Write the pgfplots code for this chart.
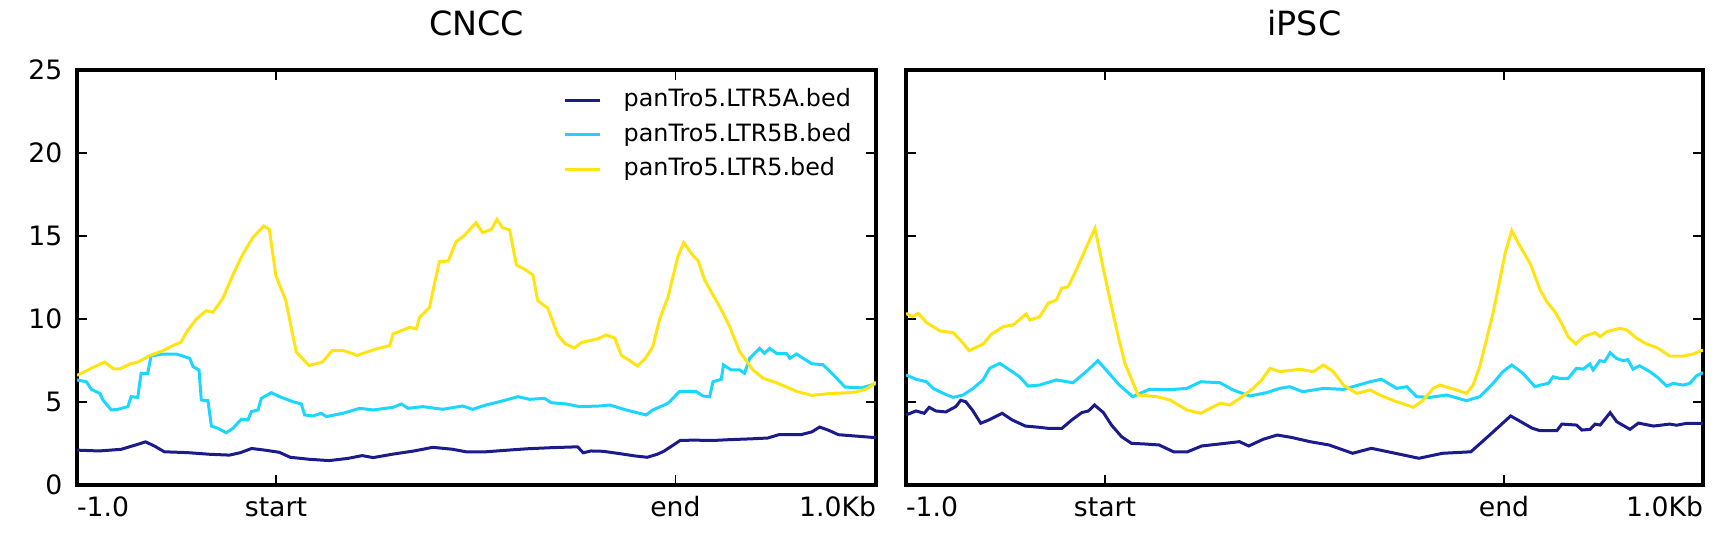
\documentclass[border=0pt]{standalone}
\usepackage{fontspec}
\setmainfont{DejaVu Sans}
\usepackage{pgfplots}
\pgfplotsset{compat=1.18}
\definecolor{cA}{RGB}{27,27,140}
\definecolor{cB}{RGB}{28,214,255}
\definecolor{cC}{RGB}{255,228,18}
\pgfplotsset{
  prof/.style={
    scale only axis,
    height=124.5pt,
    ymin=0, ymax=25,
    ytick={0,5,10,15,20,25},
    tick align=inside,
    xtick pos=both, ytick pos=both,
    major tick length=3pt,
    every tick/.style={black, line width=0.5pt},
    axis line style={line width=1pt},
    /pgf/number format/assume math mode=true,
    tick label style={font=\fontsize{8}{9}\selectfont, inner sep=0pt},
    yticklabel style={anchor=east},
    yticklabel shift=4.2pt,
    xticklabel style={anchor=base},
    xticklabel shift=9.4pt,
    title style={at={(0.5,1)}, anchor=base, yshift=4.5pt, font=\fontsize{10}{12}\selectfont},
    every axis plot/.append style={line width=0.9pt, mark=none},
  }
}
\begin{document}
\begin{tikzpicture}
\path[use as bounding box] (0,0) rectangle (519.6pt,165.3pt);
% ---------------- CNCC ----------------
\begin{axis}[prof,
  at={(23.1pt,19.8pt)}, anchor=south west, width=239.7pt,
  xmin=70, xmax=793,
  xtick={70,250,611.5,793},
  xticklabels={\makebox[0pt][l]{-1.0},start,end,\makebox[0pt][r]{1.0Kb}},
  title={CNCC},
  legend cell align=left,
  legend image code/.code={\draw[#1, line width=0.9pt] (0pt,0pt) -- (10.5pt,0pt);},
  legend style={at={(0.97,0.957)}, anchor=north east, draw=none, fill=none,
    inner sep=0pt, row sep=3.35pt, column sep=6.6pt,
    font=\fontsize{7.15}{8}\selectfont,
    nodes={inner sep=0pt, text height=5.5pt, text depth=1.5pt}},
]
\addplot[cA] coordinates {
(70,2.1) (90,2.05) (110,2.15) (125,2.45) (132,2.6) (140,2.35) (149,2.0) (170,1.95)
(190,1.85) (208,1.8) (218,1.95) (228,2.2) (240,2.1) (253,1.97) (263,1.67) (280,1.55)
(298,1.47) (315,1.6) (328,1.77) (338,1.65) (355,1.85) (375,2.05) (392,2.27) (410,2.15)
(422,2.0) (440,2.0) (460,2.1) (477,2.18) (500,2.25) (523,2.3) (528,1.94) (535,2.05)
(546,2.03) (560,1.9) (575,1.75) (586,1.67) (595,1.85) (601,2.03) (616,2.69) (630,2.7)
(645,2.68) (660,2.73) (680,2.78) (695,2.83) (705,3.03) (725,3.03) (735,3.2) (742,3.49)
(750,3.3) (759,3.03) (778,2.93) (793,2.85)
};
\addlegendentry{panTro5.LTR5A.bed}
\addplot[cB] coordinates {
(70,6.33) (78.5,6.22) (83,5.76) (90.5,5.52) (93.5,5.12) (101,4.52) (107,4.56) (116,4.72)
(119,5.32) (125,5.28) (128,6.73) (134,6.73) (137,7.77) (147.8,7.89) (160,7.89) (167.4,7.73)
(172,7.63) (175,7.13) (180.4,6.93) (182.5,5.12) (188.5,5.08) (191.6,3.55) (197.6,3.41)
(205,3.15) (211,3.41) (218.7,3.96) (224.7,3.92) (227.8,4.42) (233.8,4.52) (236.8,5.22)
(245.9,5.56) (253.4,5.32) (265.4,5.02) (273,4.88) (276,4.22) (283.5,4.16) (291,4.32)
(295.6,4.12) (310.7,4.32) (325.8,4.62) (337.8,4.52) (356,4.68) (363.5,4.88) (369.5,4.62)
(383,4.72) (401,4.56) (419,4.76) (428,4.56) (440,4.82) (452.5,5.02) (469,5.32) (479.6,5.16)
(493,5.22) (499,4.96) (512.8,4.88) (525,4.72) (543,4.76) (552,4.82) (567,4.52) (585,4.22)
(591,4.52) (604.8,4.92) (615,5.62) (630.5,5.62) (636.5,5.36) (642.5,5.32) (645.5,6.22)
(653,6.37) (655,7.23) (662,6.93) (669.7,6.93) (674,6.73) (678.7,7.63) (687.8,8.23)
(692,7.93) (696.8,8.23) (703,7.93) (712,7.93) (715,7.63) (721,7.89) (735,7.3) (745,7.25)
(755,6.6) (765,5.9) (780,5.85) (793,6.1)
};
\addlegendentry{panTro5.LTR5B.bed}
\addplot[cC] coordinates {
(70,6.6) (85,7.1) (95,7.4) (103,7.0) (109,7.0) (118,7.3) (125,7.4) (136,7.8) (148,8.1)
(157,8.4) (164,8.6) (170,9.3) (178,10.0) (187,10.5) (193,10.4) (202,11.25) (211,12.65)
(220,13.9) (229,14.9) (239,15.6) (244,15.4) (250,12.6) (259,11.1) (265,9.1) (268.5,8.0)
(280,7.2) (292,7.4) (301,8.1) (311,8.1) (320,7.9) (323,7.8) (341,8.2) (353,8.4) (356,9.1)
(371,9.5) (377,9.4) (380,10.1) (389,10.7) (394,12.3) (398,13.45) (406,13.5) (413,14.66)
(420,15.0) (431,15.8) (437,15.2) (445,15.4) (450,16.0) (455,15.5) (461.5,15.36)
(467.6,13.25) (475,13.0) (482.5,12.65) (487,11.1) (496,10.66) (505,9.04) (512,8.5)
(520,8.25) (527,8.6) (534,8.7) (541,8.8) (549,9.04) (556.6,8.85) (562.6,7.8) (570,7.5)
(577,7.17) (584,7.6) (591,8.33) (597,9.94) (604.7,11.3) (613.7,13.75) (619,14.6)
(627,13.86) (632,13.5) (638,12.35) (645,11.5) (651.6,10.74) (660.6,9.54) (669.7,8.03)
(681.7,6.93) (690.8,6.43) (703,6.16) (712,5.9) (722,5.62) (735,5.4) (750,5.5) (765,5.55)
(775,5.6) (785,5.8) (793,6.2)
};
\addlegendentry{panTro5.LTR5.bed}
\end{axis}
% ---------------- iPSC ----------------
\begin{axis}[prof,
  at={(271.8pt,19.8pt)}, anchor=south west, width=239.1pt,
  xmin=820, xmax=1541,
  xtick={820,1000,1361,1541},
  xticklabels={\makebox[0pt][l]{-1.0},start,end,\makebox[0pt][r]{1.0Kb}},
  yticklabels={},
  title={iPSC},
]
\addplot[cA] coordinates {
(820,4.22) (829,4.46) (836.5,4.32) (841,4.68) (847,4.46) (856,4.4) (865,4.72) (869.5,5.1)
(874,5.02) (880,4.52) (887.6,3.72) (895,3.92) (907,4.32) (916,3.92) (928,3.55) (940,3.48)
(949,3.41) (961,3.41) (970,3.92) (979,4.36) (985,4.46) (990.5,4.82) (998.6,4.36) (1006,3.6)
(1015,2.91) (1024,2.51) (1036,2.47) (1049,2.41) (1062,2.0) (1074.7,2.0) (1087.5,2.35)
(1108.7,2.51) (1121.7,2.61) (1130,2.35) (1143,2.75) (1155.8,3.01) (1168.5,2.87)
(1185.5,2.61) (1202.7,2.41) (1224,1.91) (1241,2.21) (1262.6,1.91) (1284,1.61)
(1305.4,1.91) (1331,2.0) (1348,3.01) (1367,4.16) (1386.5,3.42) (1393.7,3.27)
(1408.8,3.27) (1413.3,3.67) (1426.7,3.61) (1431.3,3.31) (1438.8,3.35) (1443.4,3.67)
(1448,3.61) (1457,4.36) (1463,3.81) (1475,3.35) (1482.6,3.73) (1496.2,3.55) (1511,3.67)
(1517,3.6) (1526,3.71) (1541,3.71)
};
\addplot[cB] coordinates {
(820,6.63) (829,6.37) (838.6,6.22) (844.6,5.82) (853.6,5.52) (862.6,5.28) (871.6,5.42)
(880.7,5.82) (889.7,6.33) (895.7,7.03) (904.8,7.33) (913.8,6.93) (922.8,6.52) (930.3,5.96)
(940.8,6.02) (955.9,6.33) (971,6.16) (983,6.83) (993.6,7.49) (1001,6.93) (1013,6.02)
(1025,5.32) (1040,5.76) (1058.8,5.74) (1074,5.82) (1086.6,6.22) (1104,6.16) (1116,5.72)
(1131,5.36) (1146,5.56) (1158,5.82) (1167,5.92) (1179,5.62) (1197.6,5.82) (1215.7,5.76)
(1239.8,6.22) (1250,6.37) (1264,5.82) (1273,5.92) (1282,5.32) (1294,5.28) (1309,5.42)
(1327,5.08) (1339,5.32) (1351,6.12) (1360,6.83) (1368,7.23) (1378,6.73) (1389,5.92)
(1393.7,6.02) (1401,6.12) (1405.5,6.52) (1411.5,6.42) (1419,6.42) (1426.5,7.03)
(1432.6,6.98) (1438.6,7.29) (1441.6,6.93) (1447.7,7.49) (1452,7.43) (1457,7.97)
(1462.6,7.63) (1468.6,7.49) (1473,7.55) (1477.7,6.98) (1483.7,7.18) (1492.8,6.83)
(1500,6.48) (1508,5.96) (1514,6.12) (1523,6.02) (1529,6.12) (1535,6.57) (1541,6.77)
};
\addplot[cC] coordinates {
(820,10.34) (826,10.14) (831,10.34) (838.6,9.78) (850.7,9.28) (862.6,9.18) (871.8,8.54)
(877,8.09) (889.9,8.5) (897.5,9.1) (908,9.54) (917,9.64) (923,9.98) (928.6,10.3) (932,9.94)
(941,10.14) (948.6,10.95) (956,11.14) (960.8,11.85) (966.7,11.94) (974,12.95) (983.4,14.36)
(991,15.46) (1000,12.55) (1010.6,9.34) (1018,7.33) (1030,5.42) (1046.8,5.32) (1058.8,5.12)
(1074,4.52) (1086.6,4.32) (1104,4.92) (1113,4.82) (1122,5.22) (1134,5.82) (1141.8,6.33)
(1149.3,7.03) (1158,6.83) (1176.5,6.97) (1188.5,6.83) (1197.6,7.23) (1206.6,6.83)
(1215.7,6.02) (1227.8,5.52) (1239.8,5.72) (1251.9,5.32) (1264,5.02) (1279,4.68) (1288,5.12)
(1297,5.82) (1303,6.02) (1309,5.9) (1318,5.72) (1327,5.52) (1333,6.02) (1339,7.13)
(1345,8.73) (1351,10.34) (1356,11.95) (1362,13.96) (1368,15.32) (1375.6,14.36)
(1384.6,13.35) (1393.7,11.75) (1399.7,11.04) (1407,10.44) (1413,9.74) (1419,8.93)
(1426,8.49) (1432.7,8.93) (1443.4,9.18) (1448,8.93) (1454,9.24) (1466,9.44) (1472,9.34)
(1481,8.84) (1490,8.49) (1499,8.29) (1511,7.77) (1523,7.77) (1532,7.89) (1541,8.13)
};
\end{axis}
\end{tikzpicture}
\end{document}
